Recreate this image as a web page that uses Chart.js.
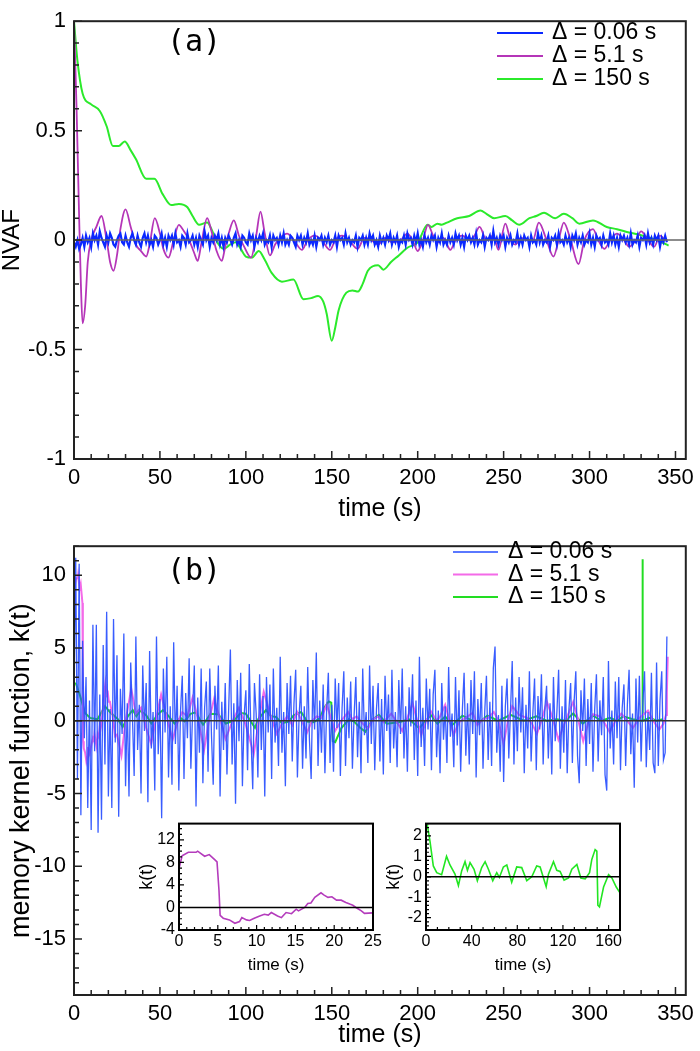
<!DOCTYPE html>
<html><head><meta charset="utf-8">
<script src="https://cdn.jsdelivr.net/npm/chart.js@4.4.1/dist/chart.umd.min.js"></script>
<style>
html,body{margin:0;padding:0;background:#fff;}
body{width:700px;height:1051px;position:relative;overflow:hidden;}
canvas{position:absolute;}
</style></head><body>
<canvas id="ca" width="700" height="530" style="left:0;top:0"></canvas>
<canvas id="cb" width="700" height="526" style="left:0;top:525px"></canvas>
<canvas id="ci1" width="260" height="170" style="left:130px;top:810px"></canvas>
<canvas id="ci2" width="260" height="170" style="left:385px;top:810px"></canvas>
<script>
// ---------- DATA ----------
const seriesLabels = ['Δ = 0.06 s', 'Δ = 5.1 s', 'Δ = 150 s'];

// Panel (a): NVAF
const dtBlueA = 1; // s between samples
const blueA = [
-.01,-.03,.00,-.04,-.02,.01,-.03,.02,-.01,.01,
-.03,.03,.00,.02,-.02,.04,.01,-.01,-.03,.02,
-.01,.03,.01,-.02,-.03,.00,.02,.03,-.01,-.02,
.02,-.01,-.03,.01,.03,.00,-.02,.02,-.01,-.03,
.01,.03,-.01,.02,-.02,.00,-.03,.02,.01,-.02,
.00,.03,-.02,.01,-.03,.02,.00,.02,-.02,.03,
-.01,.00,-.03,.02,.01,-.02,.03,-.01,.00,.02,
-.02,.01,-.03,.02,.00,-.02,.04,.00,.02,-.03,
.01,-.01,.02,.00,.03,-.02,.01,-.03,.01,-.01,
.02,.00,-.02,.01,.03,-.02,.00,-.03,.02,.01,
-.01,-.02,.03,.00,.02,-.03,.01,-.01,.02,.00,
.03,-.02,.00,-.01,.02,-.03,.02,.00,.01,-.02,
.02,-.01,.03,-.02,.00,-.02,.02,.01,-.01,-.03,
.02,.00,.02,-.02,.01,-.01,.03,-.02,.00,-.02,
.02,-.03,.01,.00,.02,-.02,.01,-.01,.02,-.02,
.00,-.01,.02,-.03,.02,.00,.01,-.02,.03,-.01,
.01,-.02,.00,-.01,.02,-.03,.01,.00,.02,-.02,
.01,-.02,.03,.00,.02,-.02,.00,-.03,.02,-.01,
.01,-.02,.02,.00,.03,-.02,.01,-.01,.02,-.03,
.00,-.01,.02,-.02,.03,.00,.01,-.02,.02,-.01,
.03,-.02,.00,-.03,.02,-.01,.01,-.02,.02,.00,
.02,-.03,.01,-.01,.03,-.02,.00,-.02,.02,-.01,
.01,-.02,.03,.00,.02,-.02,.01,-.03,.02,.00,
.02,-.01,.01,-.02,.03,-.02,.00,-.01,.02,-.03,
.01,.00,.02,-.02,.04,-.01,.01,-.02,.02,.00,
.02,-.03,.01,-.01,.02,-.02,.00,-.01,.03,-.02,
.01,-.02,.02,.00,.01,-.03,.02,-.01,.00,-.02,
.03,-.01,.02,-.02,.00,-.01,.02,-.03,.01,.00,
.02,-.02,.03,-.01,.00,-.02,.02,-.01,.01,-.03,
.02,.00,.03,-.02,.01,-.01,.02,-.02,.00,-.01,
.03,-.02,.01,-.03,.02,.00,.01,-.02,.02,-.01,
.00,-.02,.03,-.01,.02,-.02,.01,-.03,.02,.00,
.02,-.01,.01,-.02,.03,-.02,.00,-.01,.02,-.03,
.01,.00,.02,-.02,.03,-.01,.01,-.02,.02,.00,
.02,-.03,.01,-.01,.02,-.01];

const tMagA = [0,1.5,3,4,5,6.5,8,10,13,16,19,21,23,25,27,30,33,36,39,42,44,47,50,52,55,58,61,64,67,70,72,74,77.5,80,83,86,88,90,93,96,99,103,106,108.5,111,114,117,120,124,128,132.6,136,140,144,149,152,156,160,165,169,173,177,181,185,190,194,197,200,203,206,209,212,215,219,222,226,230,233,236,240,244,247,251,254,257,260,264,267,270.5,275,279,282,285,289,293.6,297,302,305,308.6,312,316,320,323,327,330,334,337.6,341,344];
const magA = [1.0,0.6,0.1,-0.2,-0.38,-0.3,-0.1,0.0,0.06,0.11,0.0,-0.1,-0.14,-0.07,0.05,0.14,0.06,-0.02,-0.05,-0.075,-0.02,0.1,0.03,-0.04,-0.08,0.0,0.07,0.04,0.0,-0.06,-0.095,-0.02,0.1,0.04,-0.05,-0.095,-0.03,0.03,0.09,0.02,-0.03,-0.08,0.02,0.13,0.03,-0.07,-0.02,0.01,0.03,0.0,-0.045,0.0,0.02,0.0,-0.045,0.0,0.02,0.0,-0.04,0.01,0.0,-0.02,0.01,-0.01,0.0,0.03,0.0,-0.05,0.0,0.07,0.02,-0.01,0.01,-0.045,0.0,0.02,0.0,0.02,0.06,0.0,0.02,-0.045,0.075,0.0,-0.02,0.01,0.0,0.0,0.08,0.0,-0.075,0.0,0.08,0.0,-0.11,0.0,0.05,0.0,-0.04,0.0,0.03,0.0,-0.03,0.0,0.04,0.0,-0.03,0.02,0.0];

const tGrnA = [0,2,5,10,15,19,22.6,26,29.5,33,36,42,46.8,51.6,56.6,61,66,69,72.8,77.5,80,82.6,87,91,94,97,100,103.5,107.5,111,115,121,127.7,133.5,138,142,145,147,150,152,154,158.5,162,165.3,168,171,177,180,184.5,189,194,200,205.8,208,211.5,214,217,223,230,236.5,240,244.5,251,255,259,265,269,273.5,280,285,290,294,302,310,316,323,331,339,346];
const grnA = [1.0,0.82,0.67,0.62,0.59,0.52,0.43,0.43,0.45,0.41,0.37,0.28,0.28,0.21,0.16,0.165,0.15,0.11,0.07,0.08,0.05,0.0,-0.04,-0.02,-0.01,-0.04,-0.075,-0.08,-0.05,-0.09,-0.15,-0.19,-0.18,-0.27,-0.265,-0.255,-0.28,-0.335,-0.46,-0.4,-0.32,-0.24,-0.23,-0.235,-0.2,-0.14,-0.115,-0.135,-0.1,-0.07,-0.035,-0.01,0.07,0.06,0.075,0.07,0.08,0.1,0.11,0.135,0.12,0.1,0.11,0.09,0.07,0.1,0.11,0.125,0.1,0.12,0.1,0.075,0.09,0.06,0.05,0.035,0.02,0.0,-0.025];

// Panel (b): memory kernel function k(t)
const dtBlueB = 1;
const blueB = [
2.0,11.2,-4.0,10.8,-6.5,5.5,-1.2,3.0,-6.0,1.4,
-7.5,6.6,-2.1,6.6,-7.7,1.8,-6.8,5.2,-3.0,7.5,
-5.2,0.8,-6.0,7.0,-1.5,4.5,-6.6,2.2,-0.9,6.0,
-4.5,1.2,-5.2,4.0,0.3,-3.8,5.8,-2.0,1.1,-5.0,
3.8,-0.7,2.6,-5.6,4.8,-1.9,0.6,-4.8,5.8,-2.3,
1.5,-6.7,3.6,-0.8,4.4,-3.9,1.0,-4.4,5.4,-1.6,
2.4,-4.8,0.7,3.1,-4.0,1.9,-1.2,4.3,-3.3,0.5,
3.8,-5.9,1.6,-2.2,3.6,-4.3,0.9,2.7,-3.5,3.6,
-1.0,-4.4,2.4,-0.6,3.8,-5.2,1.3,-2.0,2.6,-3.7,
0.8,4.9,-3.0,1.2,-5.7,2.8,-1.4,3.3,-4.5,0.4,
2.1,-3.4,3.9,-1.1,-4.7,2.6,0.5,-3.9,3.2,-2.0,
1.7,-5.2,3.0,-0.8,2.5,-4.0,3.6,-1.5,0.9,-3.1,
4.4,-2.2,0.6,-4.5,2.6,-0.9,3.1,-2.8,1.2,3.5,
-3.9,0.4,2.4,-3.3,1.0,-2.6,3.7,-1.3,-4.0,2.8,
-0.6,4.7,-3.1,1.4,-2.2,2.5,-3.6,0.7,3.3,-2.9,
1.1,-3.5,2.9,-0.5,2.6,-3.8,0.9,3.4,-3.1,1.6,
-1.2,2.7,-3.3,0.4,3.0,-2.5,1.3,-3.6,3.6,-1.0,
0.6,-2.9,3.8,-1.6,2.4,-3.4,0.8,2.6,-2.8,1.5,
-3.7,3.1,-0.7,1.8,-2.9,3.5,-1.9,0.6,-3.2,2.8,
-0.9,3.6,-2.6,1.0,-3.5,2.3,-0.4,3.2,-2.7,1.4,
-3.8,4.4,-1.8,0.9,-3.1,2.9,-0.6,2.2,-3.4,1.8,
3.5,-2.5,0.7,-3.6,2.6,-1.3,1.0,-2.9,3.7,-1.1,
0.5,-3.2,3.0,-1.7,2.1,-3.5,0.8,3.3,-2.4,1.2,
-3.0,2.8,-0.9,3.4,-3.9,1.5,-1.0,2.6,-3.3,0.6,
3.1,-2.7,1.3,-3.1,3.6,5.1,-2.2,0.4,-3.5,2.4,
-4.2,1.0,2.9,-2.6,0.7,4.1,-3.0,1.6,-2.1,3.0,
-0.8,2.3,-3.6,1.1,-1.9,3.4,-2.8,0.5,2.9,-3.4,
1.7,-0.6,3.2,-3.0,0.9,2.4,-2.6,1.2,-3.7,3.0,
-1.4,0.6,3.5,-3.3,1.0,-2.2,2.8,-3.6,0.8,2.6,
-2.9,1.3,3.4,-2.4,-4.3,2.1,-0.7,2.9,-3.1,1.5,
-1.6,2.6,-3.5,0.8,3.2,-2.8,1.4,-1.0,3.0,-3.7,
-4.8,4.1,-1.9,0.7,-3.0,2.7,-1.2,3.0,-3.4,0.9,
2.5,-3.1,1.1,3.5,-2.3,0.5,-4.6,2.9,-1.5,3.1,
-2.8,1.2,3.4,-3.2,0.6,-2.0,3.3,-2.9,-3.6,4.0,
-3.1,1.4,3.4,-2.7,-2.2,5.8];

const tPinkB = [0,0.4,1.2,2.2,2.4,3.3,3.9,4.6,4.9,5.15,5.3,5.7,6.5,7.2,7.8,8.1,8.7,9.1,9.7,10.4,11,11.5,11.9,12.7,13.2,13.8,14.5,15.1,15.4,16.2,16.6,17,17.5,18.3,18.7,19.2,19.7,20.3,20.9,21.5,22,22.4,22.8,23.5,23.9,25,27.6,30,33.3,36,39,42,44.9,47.5,50.7,54,57.4,60,63,66,69,72,75.7,78.5,81.5,85,88.2,92,96,100,104.6,107.5,110.4,114,118,121,124,127,129.7,132.5,135.6,138.5,141.2,144,147,149.5,152,155.5,159.5,162,164.4,168,171,174,177,180,184.6,188,191,194,197,199.5,202,205,207.7,211,213,216,218.5,221,224,228,232,234.7,238,241,244.3,247,250,252.5,255,259,263.6,266.5,269.4,272,275.2,278.5,281.9,286,290.5,293.5,296.3,299,302,306,309,311.8,315,318.5,322,325.2,329,334,337,340.6,343,344.5,345,345.5];
const pinkB = [6.9,9.2,9.8,9.8,10.0,9.1,9.4,8.5,8.1,3.1,-1.4,-1.9,-2.2,-2.8,-2.5,-1.8,-2.2,-2.3,-1.9,-1.5,-1.2,-1.35,-0.9,-1.5,-1.8,-0.9,-1.1,-0.3,-0.6,0,0.7,0.8,1.8,2.6,2.2,1.8,1.9,1.3,1.3,0.9,0.6,0.4,0,-0.6,-1.05,-0.95,-2.4,0.0,2.2,0.5,0.9,-0.5,-1.6,0.0,1.8,0.2,-1.3,-0.2,0.6,0.3,1.6,0.2,-2.0,0.0,1.5,0.1,-1.25,-0.1,0.9,-0.3,-2.3,0.0,2.0,0.5,-0.9,-0.2,0.3,-0.3,0.63,0.0,-0.8,0.0,0.3,0.2,1.1,0.2,-0.7,0.0,0.6,0.1,0.3,-0.2,-0.55,0.1,0.3,-0.1,0.5,-0.1,-0.7,0.2,1.2,0.1,-1.0,0.0,0.65,0.0,0.3,1.1,0.0,-0.95,-0.1,0.2,0.55,-0.3,0.1,0.2,0.6,0.0,-1.6,0.0,1.0,0.4,0.2,-0.2,-0.9,0.0,1.3,0.2,-1.3,0.0,1.3,0.0,-1.4,-0.2,0.45,0.3,-0.2,-0.8,0.0,0.5,0.0,-0.5,0.2,0.7,0.0,-0.6,-0.2,0.4,2.0,4.4];

const tGrnB = [0,1.2,3.5,6.4,9.4,13.7,18,21,25.4,28.4,31.3,34.2,36.3,38.6,42.1,45,48.8,51.8,54.7,58.5,62,64.3,67.8,70.8,75.1,79.5,83.9,88.3,92.7,97,100,105.3,107.3,111.7,114.6,117.5,121,124.9,127.8,132.2,135.7,139.5,143.3,145.3,148.2,149.7,150.6,152,155.6,160,162.9,166.7,169.6,173.5,177.4,182,189,195,200.9,207.7,211.5,216,220,226,232,236,240.5,247,254,261.7,269,275,281,286,290.5,296,302,307,311.8,316,319.5,325.2,330.6,330.8,331,335,339,342.6];
const grnB = [2.6,2.53,1.73,0.53,0.2,0.1,1.0,0.58,0.13,-0.43,0.3,0.74,0.32,0.69,0.37,-0.19,0.45,0.74,0.37,-0.19,0.2,-0.03,0.48,0.58,-0.27,0.48,0.45,-0.19,0.0,0.53,0.48,-0.48,0.13,0.74,0.32,0.26,-0.16,-0.06,0.37,0.6,-0.06,-0.1,0.2,0.85,1.33,1.25,-1.39,-1.47,-0.5,0.1,-0.06,-0.5,-0.75,0.05,0.4,-0.2,-0.1,0.1,-0.5,0.4,-0.2,0.3,-0.3,0.35,0.0,-0.1,0.35,0.0,0.4,0.0,0.3,0.0,0.1,0.0,0.5,-0.2,0.35,0.0,0.2,0.0,0.3,0.1,0.0,11.1,0.0,0.2,0.0,0.1];

// ---------- HELPERS ----------
const FONT = "'Liberation Sans', Arial, Helvetica, sans-serif";
function pts(ts, vs){ return ts.map((t,i)=>({x:t, y:vs[i]})); }
function uni(dt, vs){ return vs.map((v,i)=>({x:i*dt, y:v})); }
function isMult(v, s){ const q=v/s; return Math.abs(q-Math.round(q))<1e-6; }
function fmt(v, s){ const r=Math.round(v/s)*s; const t=Math.round(r*1000)/1000; return String(t===0?0:t); }

function makeDeco(c){
  return {
    id:'deco',
    beforeDatasetsDraw(chart){
      if(!c.fill) return;
      const a=chart.chartArea, ctx=chart.ctx;
      ctx.save(); ctx.fillStyle='#fff'; ctx.fillRect(a.left,a.top,a.right-a.left,a.bottom-a.top); ctx.restore();
    },
    afterDatasetsDraw(chart){
      const ctx=chart.ctx, a=chart.chartArea, xs=chart.scales.x, ys=chart.scales.y;
      ctx.save();
      const y0=ys.getPixelForValue(0);
      ctx.strokeStyle=c.zeroColor; ctx.lineWidth=c.zeroWidth;
      ctx.beginPath(); ctx.moveTo(a.left,y0); ctx.lineTo(a.right,y0); ctx.stroke();
      ctx.strokeStyle=c.frameColor; ctx.lineWidth=c.tickWidth;
      ctx.beginPath();
      xs.ticks.forEach(t=>{
        const p=xs.getPixelForValue(t.value);
        if(p<a.left-0.5||p>a.right+0.5) return;
        const L=isMult(t.value,c.xMajor)?c.majorLen:c.minorLen;
        ctx.moveTo(p,a.bottom); ctx.lineTo(p,a.bottom-L);
      });
      ys.ticks.forEach(t=>{
        const p=ys.getPixelForValue(t.value);
        if(p<a.top-0.5||p>a.bottom+0.5) return;
        const L=isMult(t.value,c.yMajor)?c.majorLen:c.minorLen;
        ctx.moveTo(a.left,p); ctx.lineTo(a.left+L,p);
      });
      ctx.stroke();
      ctx.lineWidth=c.frameWidth;
      ctx.strokeRect(a.left,a.top,a.right-a.left,a.bottom-a.top);
      if(c.tag){
        ctx.fillStyle='#000'; ctx.font=c.tagFont; ctx.textAlign='center'; ctx.textBaseline='middle';
        ctx.fillText(c.tag, c.tagX, c.tagY-c.offY);
      }
      if(c.legend){
        const L=c.legend;
        ctx.font=L.font; ctx.textAlign='left'; ctx.textBaseline='middle';
        chart.data.datasets.forEach((d,i)=>{
          const y=L.y+i*L.gap-c.offY;
          ctx.strokeStyle=L.colors[i]; ctx.lineWidth=L.width;
          ctx.beginPath(); ctx.moveTo(L.x1,y); ctx.lineTo(L.x2,y); ctx.stroke();
          ctx.fillStyle='#000'; ctx.fillText(d.label, L.tx, y);
        });
      }
      ctx.restore();
    }
  };
}

function xScale(o){
  return {type:'linear', min:o.min, max:o.max, border:{display:false},
    grid:{display:false, drawTicks:false},
    ticks:{stepSize:o.step, includeBounds:false, autoSkip:false, maxRotation:0, minRotation:0,
      padding:o.pad, color:'#000', font:{family:FONT, size:o.fs},
      callback:(v)=> isMult(v,o.major)? fmt(v,o.major) : ''},
    title:{display:true, text:o.title, color:'#000', font:{family:FONT, size:o.tfs, lineHeight:1}, padding:{top:0,bottom:o.tpad}},
    afterFit:(s)=>{ s.height=o.h; }};
}
function yScale(o){
  return {type:'linear', min:o.min, max:o.max, border:{display:false},
    grid:{display:false, drawTicks:false},
    ticks:{stepSize:o.step, includeBounds:false, autoSkip:false,
      padding:o.pad, color:'#000', font:{family:FONT, size:o.fs},
      callback:(v)=> isMult(v,o.major)? fmt(v,o.major) : ''},
    title:{display:true, text:o.title, color:'#000', font:{family:FONT, size:o.tfs, lineHeight:1}, padding:{top:o.tpad,bottom:0}},
    afterFit:(s)=>{ s.width=o.w; }};
}
const common = {responsive:false, animation:false, parsing:false, normalized:true, events:[],
  plugins:{legend:{display:false}, tooltip:{enabled:false}}};
function line(label, data, color, w, smooth){
  const d={label, data, borderColor:color, borderWidth:w, pointRadius:0, fill:false, tension:0};
  if(smooth) d.cubicInterpolationMode='monotone';
  return d;
}

// ---------- PANEL (a) ----------
new Chart(document.getElementById('ca'), {
  type:'line',
  data:{datasets:[
    line(seriesLabels[0], uni(dtBlueA, blueA), '#0a28ff', 2.2, false),
    line(seriesLabels[1], pts(tMagA, magA), '#b535b8', 1.8, true),
    line(seriesLabels[2], pts(tGrnA, grnA), '#2bea2b', 2, true)
  ]},
  options:Object.assign({}, common, {
    layout:{padding:{left:0,right:10,top:10,bottom:0}},
    scales:{
      x:xScale({min:0,max:356,step:10,major:50,pad:6,fs:22,title:'time (s)',tfs:25,tpad:8,h:71}),
      y:yScale({min:-1,max:1,step:0.1,major:0.5,pad:8,fs:22,title:'NVAF',tfs:24,tpad:0,w:74})
    }
  }),
  plugins:[makeDeco({offY:0, zeroColor:'#666', zeroWidth:1.5, frameColor:'#222', frameWidth:2, tickWidth:1.5,
    majorLen:8, minorLen:5, xMajor:50, yMajor:0.5,
    tag:'(a)', tagFont:"30px 'DejaVu Sans Mono', monospace", tagX:194, tagY:43,
    legend:{x1:497, x2:543, tx:552, y:33, gap:23, width:2, font:"23px "+FONT, colors:['#0a28ff','#b535b8','#2bea2b']}})]
});

// ---------- PANEL (b) ----------
new Chart(document.getElementById('cb'), {
  type:'line',
  data:{datasets:[
    line(seriesLabels[0], uni(dtBlueB, blueB), 'rgba(35,75,255,0.9)', 1.3, false),
    line(seriesLabels[1], pts(tPinkB, pinkB), '#f46ae8', 2, false),
    line(seriesLabels[2], pts(tGrnB, grnB), '#22dd22', 2, false)
  ]},
  options:Object.assign({}, common, {
    layout:{padding:{left:0,right:10,top:13,bottom:0}},
    scales:{
      x:xScale({min:0,max:356,step:10,major:50,pad:6,fs:22,title:'time (s)',tfs:25,tpad:3,h:56}),
      y:yScale({min:-18.85,max:12,step:1,major:5,pad:8,fs:22,title:'memory kernel function, k(t)',tfs:27,tpad:8,w:74})
    }
  }),
  plugins:[makeDeco({offY:525, zeroColor:'#333', zeroWidth:1.5, frameColor:'#222', frameWidth:2, tickWidth:1.5,
    majorLen:8, minorLen:5, xMajor:50, yMajor:5,
    tag:'(b)', tagFont:"30px 'DejaVu Sans Mono', monospace", tagX:194, tagY:572,
    legend:{x1:453, x2:498, tx:508, y:552, gap:22.5, width:2, font:"23px "+FONT, colors:['#5a78ff','#f46ae8','#22dd22']}})]
});

// ---------- INSET 1 (Δ = 5.1 s, 0–25 s) ----------
new Chart(document.getElementById('ci1'), {
  type:'line',
  data:{datasets:[ line(seriesLabels[1], pts(tPinkB, pinkB), '#b43cbc', 1.6, false) ]},
  options:Object.assign({}, common, {
    layout:{padding:{left:0,right:17,top:13,bottom:0}},
    scales:{
      x:xScale({min:0,max:25,step:1,major:5,pad:2,fs:16,title:'time (s)',tfs:17,tpad:6,h:50}),
      y:yScale({min:-4,max:14.9,step:1,major:4,pad:4,fs:16,title:'k(t)',tfs:18,tpad:8,w:49})
    }
  }),
  plugins:[makeDeco({offY:810, fill:true, zeroColor:'#000', zeroWidth:1.5, frameColor:'#000', frameWidth:2, tickWidth:1.2,
    majorLen:5, minorLen:3, xMajor:5, yMajor:4})]
});

// ---------- INSET 2 (Δ = 150 s, 0–170 s) ----------
new Chart(document.getElementById('ci2'), {
  type:'line',
  data:{datasets:[ line(seriesLabels[2], pts(tGrnB, grnB), '#22e622', 1.6, false) ]},
  options:Object.assign({}, common, {
    layout:{padding:{left:0,right:25,top:12,bottom:0}},
    scales:{
      x:xScale({min:0,max:170,step:10,major:40,pad:2,fs:16,title:'time (s)',tfs:17,tpad:6,h:50}),
      y:yScale({min:-2.6,max:2.6,step:0.2,major:1,pad:4,fs:16,title:'k(t)',tfs:18,tpad:0,w:41})
    }
  }),
  plugins:[makeDeco({offY:810, fill:true, zeroColor:'#000', zeroWidth:1.5, frameColor:'#000', frameWidth:2, tickWidth:1.2,
    majorLen:5, minorLen:3, xMajor:40, yMajor:1})]
});
</script>
</body></html>
